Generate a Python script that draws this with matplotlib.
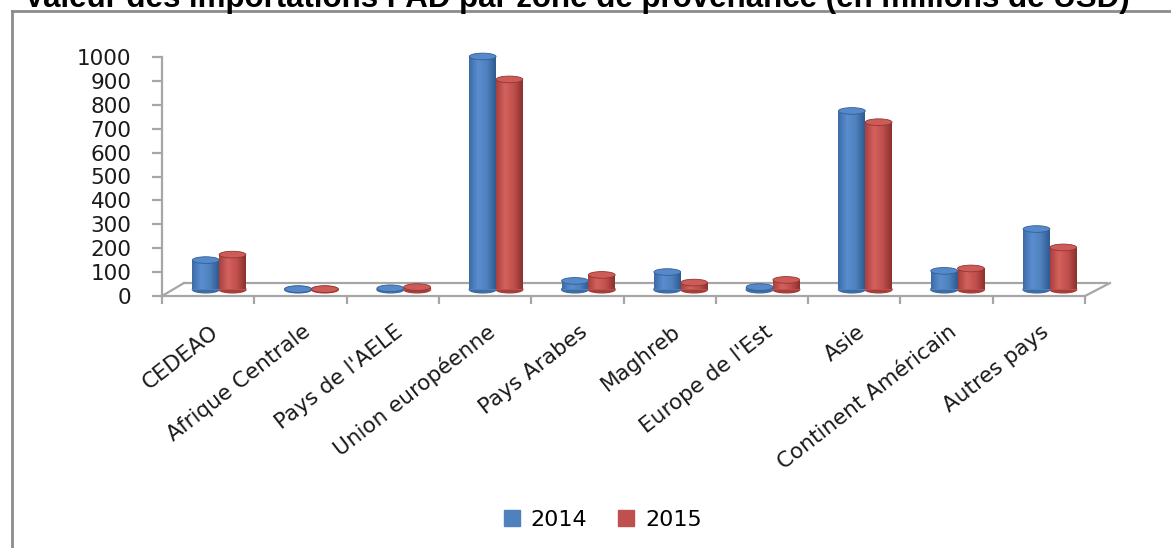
import numpy as np
import matplotlib
matplotlib.use("Agg")
import matplotlib.pyplot as plt
from matplotlib.patches import Ellipse, Patch
from matplotlib.lines import Line2D
from matplotlib.transforms import ScaledTranslation
from matplotlib.colors import LinearSegmentedColormap

# --- data (millions USD) ---
zones = ["CEDEAO", "Afrique Centrale", "Pays de l'AELE", "Union européenne",
         "Pays Arabes", "Maghreb", "Europe de l'Est", "Asie",
         "Continent Américain", "Autres pays"]
val_2014 = [123, 1.5, 5, 975, 36, 73, 10, 747, 78, 253]
val_2015 = [146, 1.5, 10, 879, 61, 29, 40, 700, 88, 176]
years = ["2014", "2015"]
y_ticks = list(range(0, 1001, 100))

blue = "#4F81BD"
red = "#C0504D"
blue_cmap = LinearSegmentedColormap.from_list("b", ["#3D6AA6", "#5A8ED0", "#4F81BD", "#2E5A90"])
red_cmap = LinearSegmentedColormap.from_list("r", ["#A8403D", "#D4625E", "#C0504D", "#8B302D"])

fig = plt.figure(figsize=(11.71, 5.48), dpi=100)
plt.rcParams['font.family'] = ['DejaVu Sans']
ax = fig.add_axes([162 / 1171, 252 / 548, 923 / 1171, 239 / 548])

# 3D look: bars sit half way into the floor depth
mid = ax.transData + ScaledTranslation(0.11, 0.065, fig.dpi_scale_trans)
back = ax.transAxes + ScaledTranslation(0.22, 0.13, fig.dpi_scale_trans)

n = len(zones)
x = np.arange(n) + 0.5
w = 0.29
cap_h = 28  # ellipse height in data units

grad = np.linspace(0, 1, 64)[np.newaxis, :]
for vals, xs, col, cmap in [(val_2014, x - w / 2, blue, blue_cmap),
                            (val_2015, x + w / 2, red, red_cmap)]:
    bars = ax.bar(xs, vals, w, color=col, transform=mid, zorder=3, clip_on=False)
    for xc, v, b in zip(xs, vals, bars):
        ax.add_patch(Ellipse((xc, 0), w, cap_h, color=cmap(0.85), transform=mid,
                             zorder=2, clip_on=False))
        im = ax.imshow(grad, extent=(xc - w / 2, xc + w / 2, 0, v), cmap=cmap,
                       aspect='auto', transform=mid, zorder=3.5,
                       interpolation='bicubic')
        im.set_clip_path(b)
        ax.add_patch(Ellipse((xc, v), w, cap_h, facecolor=cmap(0.45),
                             edgecolor=cmap(0.95), lw=0.6, transform=mid,
                             zorder=4, clip_on=False))

ax.set_xlim(0, n)
ax.set_ylim(0, 1000)

# floor
floor_kw = dict(color="#A6A6A6", lw=1.6, clip_on=False, zorder=1)
ax.plot([0, 1], [0, 0], transform=back, **floor_kw)
ax.add_line(Line2D([0, 0.0238], [0, 0.0544], transform=ax.transAxes, **floor_kw))
ax.add_line(Line2D([1, 1.0271], [0, 0.0544], transform=ax.transAxes, **floor_kw))

for s in ["top", "right"]:
    ax.spines[s].set_visible(False)
for s in ["left", "bottom"]:
    ax.spines[s].set_color("#A6A6A6")
    ax.spines[s].set_linewidth(1.6)

ax.set_yticks(y_ticks)
ax.tick_params(axis='y', direction='out', length=7, width=1.6, color="#A6A6A6",
               pad=15, labelsize=15.5, labelcolor="#1a1a1a")
ax.set_xticks(np.arange(n + 1))
ax.set_xticklabels([])
ax.tick_params(axis='x', which='major', direction='out', length=6, width=1.6,
               color="#A6A6A6")
ax.set_xticks(x, minor=True)
ax.set_xticklabels(zones, minor=True, rotation=38, ha='right', va='center',
                   rotation_mode='anchor', fontsize=15.5, color="#1a1a1a")
ax.tick_params(axis='x', which='minor', length=0, pad=24)
shift = ScaledTranslation(0.08, 0, fig.dpi_scale_trans)
for lab in ax.get_xticklabels(minor=True):
    lab.set_transform(lab.get_transform() + shift)

# legend
handles = [Patch(color=blue), Patch(color=red)]
fig.legend(handles, years, loc='center', bbox_to_anchor=(603 / 1171, 0.051),
           ncol=2, frameon=False, fontsize=16, handlelength=0.7,
           handleheight=0.7, columnspacing=1.4, handletextpad=0.5)

# title (cut off at the top like the source) and frame
fig.text(577 / 1171, 1 - 7.5 / 548,
         "Valeur des importations PAD par zone de provenance (en millions de USD)",
         ha='center', va='baseline', fontsize=22.5, fontweight='bold',
         family=['Liberation Sans', 'DejaVu Sans'])
fig.add_artist(Line2D([12 / 1171, 12 / 1171], [0, 1 - 11 / 548],
                      transform=fig.transFigure, color="#8C8C8C", lw=2))
fig.add_artist(Line2D([12 / 1171, 1], [1 - 11 / 548, 1 - 11 / 548],
                      transform=fig.transFigure, color="#8C8C8C", lw=2))

fig.savefig("out.png", dpi=100)
